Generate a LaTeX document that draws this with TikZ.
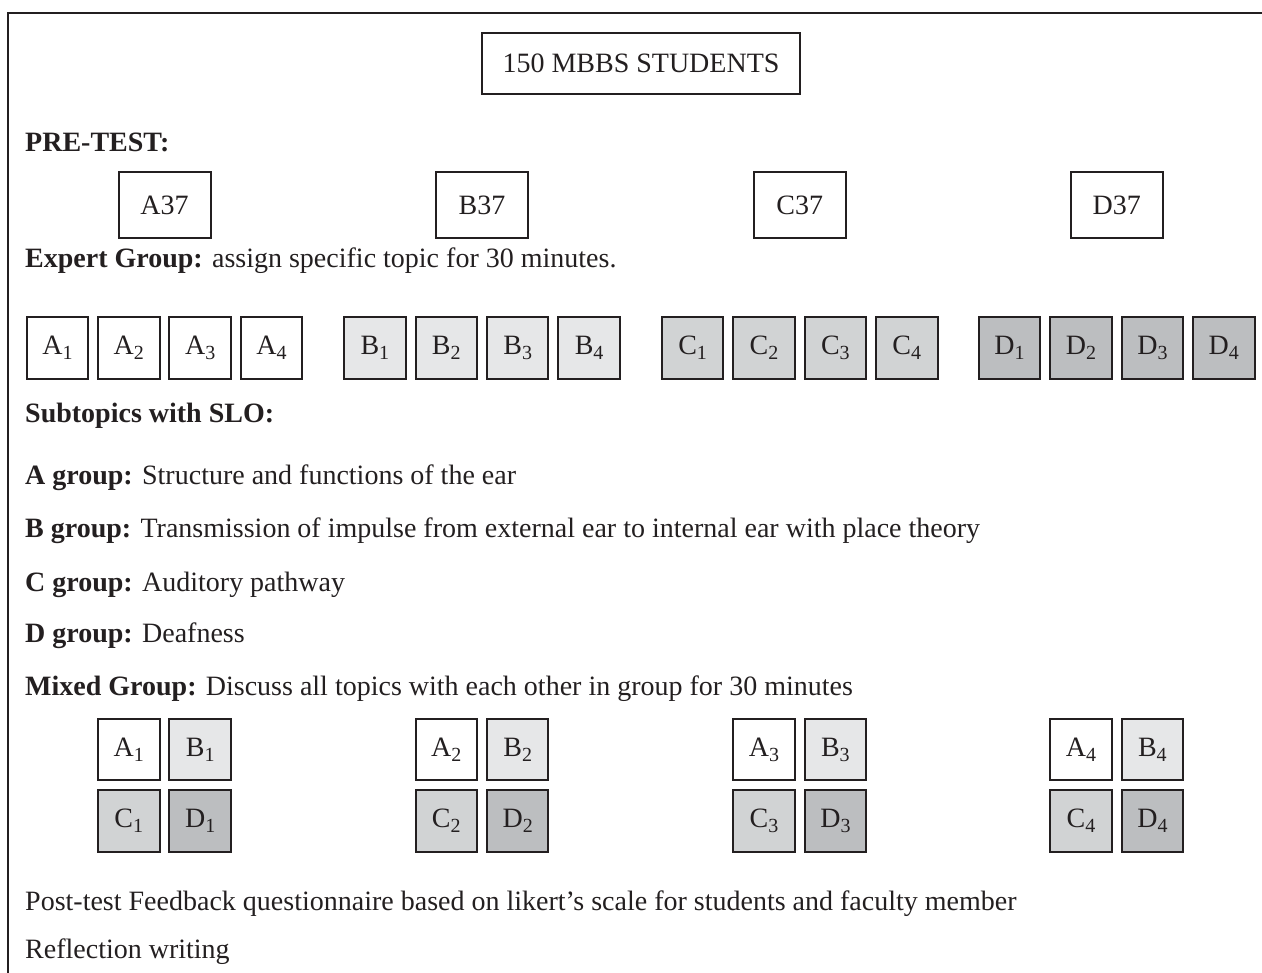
\documentclass[tikz,border=0pt]{standalone}
\usepackage{fontspec}
\setmainfont{Liberation Serif}
\definecolor{linec}{HTML}{231F20}
\definecolor{fillB}{HTML}{E6E7E8}
\definecolor{fillC}{HTML}{D1D3D4}
\definecolor{fillD}{HTML}{BCBEC0}
\newcommand\mainsz{\fontsize{28}{33}\selectfont}
\newcommand\lowsub[1]{\raisebox{-5pt}{\fontsize{20}{20}\selectfont #1}}
\begin{document}
\begin{tikzpicture}[x=1pt,y=-1pt,
  txt/.style={anchor=base west, inner sep=0pt, font=\mainsz, text=linec},
  sqbox/.style={draw=linec, line width=2pt, minimum width=61.5pt, minimum height=61.5pt, inner sep=0pt, font=\mainsz, text=linec},
  bigbox/.style={draw=linec, line width=2pt, inner sep=0pt, font=\mainsz, text=linec},
  fA/.style={fill=white}, fB/.style={fill=fillB}, fC/.style={fill=fillC}, fD/.style={fill=fillD}]
\useasboundingbox (0,0) rectangle (1262,973);
% frame
\coordinate (ftl) at (8,13);
\coordinate (ftr) at (1262,13);
\coordinate (fbl) at (8,973);
\draw[linec, line width=2.4pt] (ftr) -- (ftl) -- (fbl);
% title
\node[bigbox, minimum width=318pt, minimum height=61pt] (title) at (641,63.5) {150 MBBS STUDENTS};
% pre-test
\node[txt] (pre) at (25,152) {\textbf{PRE-TEST:}};
\node[bigbox, minimum width=92pt, minimum height=66pt] (A37) at (164.5,205) {A37};
\node[bigbox, minimum width=92pt, minimum height=66pt] (B37) at (482,205) {B37};
\node[bigbox, minimum width=92pt, minimum height=66pt] (C37) at (799.7,205) {C37};
\node[bigbox, minimum width=92pt, minimum height=66pt] (D37) at (1116.7,205) {D37};
% expert
\node[txt] (expert) at (25,268) {\textbf{Expert Group:} assign specific topic for 30 minutes.};
\foreach \g/\gc in {A/164.5,B/482,C/799.7,D/1116.7}{
  \foreach \i/\dx in {1/-107.1,2/-35.7,3/35.7,4/107.1}{
    \node[sqbox, f\g] (e\g\i) at (\gc+\dx,348.2) {\g\lowsub{\i}};
  }
}
% subtopics
\node[txt] (sub) at (25,423) {\textbf{Subtopics with SLO:}};
\node[txt] (ga) at (25,485) {\textbf{A group:} Structure and functions of the ear};
\node[txt] (gb) at (25,538) {\textbf{B group:} Transmission of impulse from external ear to internal ear with place theory};
\node[txt] (gc) at (25,591) {\textbf{C group:} Auditory pathway};
\node[txt] (gd) at (25,642) {\textbf{D group:} Deafness};
\node[txt] (mixed) at (25,695) {\textbf{Mixed Group:} Discuss all topics with each other in group for 30 minutes};
% mixed groups
\foreach \i/\gc in {1/164.5,2/482,3/799.7,4/1116.7}{
  \node[sqbox, fA] (mA\i) at (\gc-35.7,749.5) {A\lowsub{\i}};
  \node[sqbox, fB] (mB\i) at (\gc+35.7,749.5) {B\lowsub{\i}};
  \node[sqbox, fC] (mC\i) at (\gc-35.7,821.2) {C\lowsub{\i}};
  \node[sqbox, fD] (mD\i) at (\gc+35.7,821.2) {D\lowsub{\i}};
}
\node[txt] (post) at (25,910) {Post-test Feedback questionnaire based on likert’s scale for students and faculty member};
\node[txt] (refl) at (25,958) {Reflection writing};
\end{tikzpicture}
\end{document}
